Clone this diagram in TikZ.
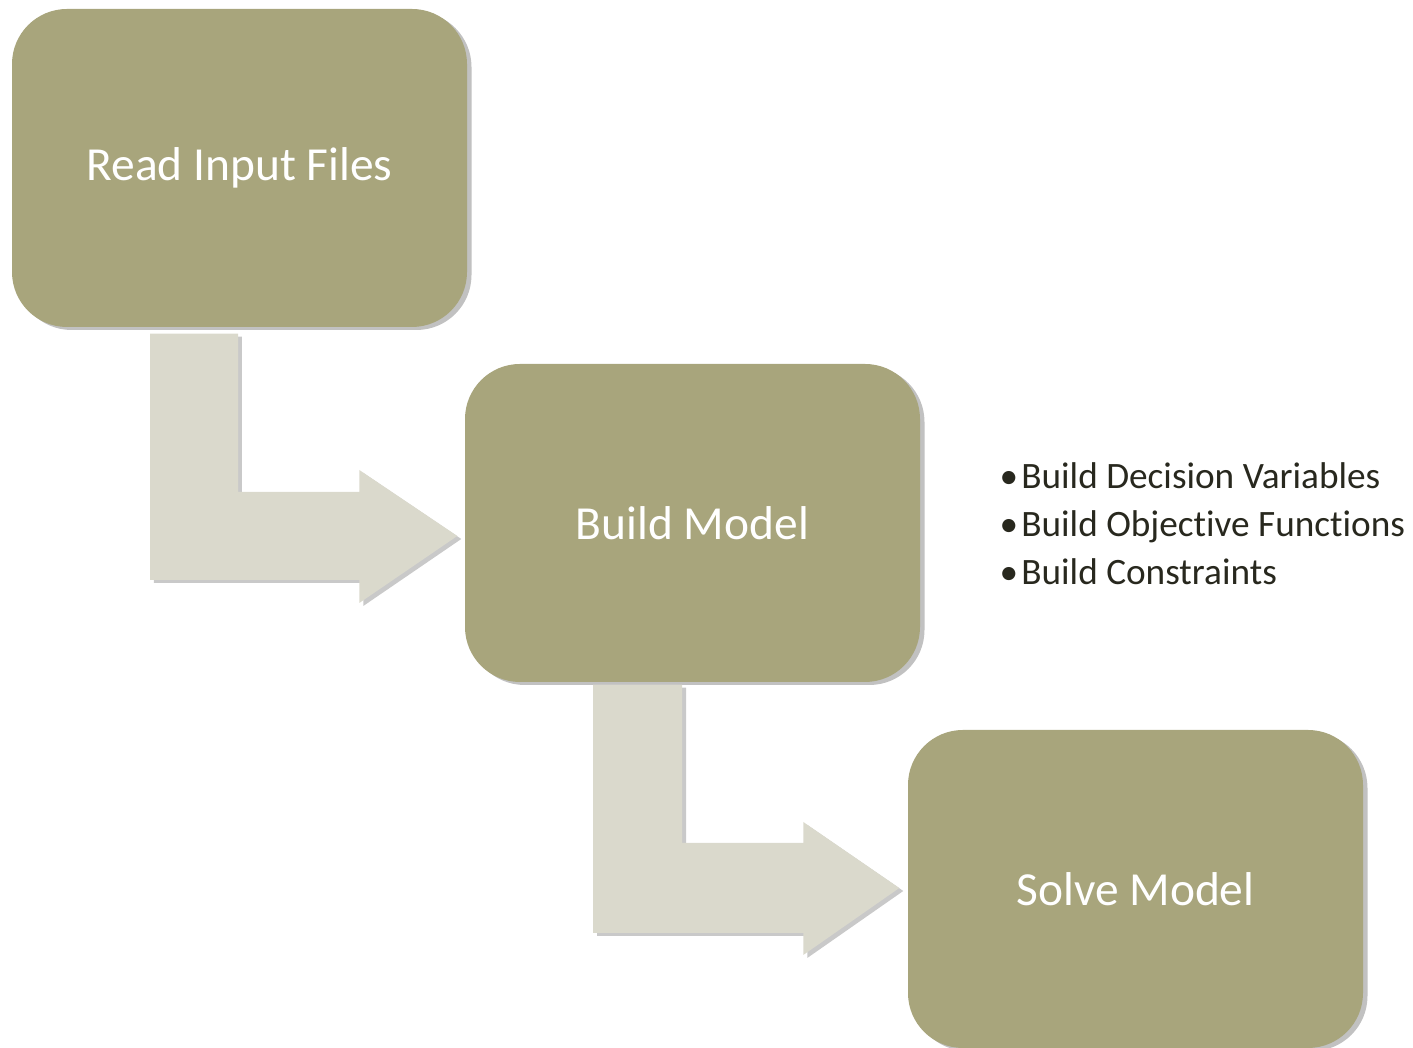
\documentclass[tikz,border=0pt]{standalone}
\usepackage{fontspec}
\setmainfont{Carlito}[Ligatures=NoCommon]
\usepackage{xcolor}
\usetikzlibrary{shadows, calc}

\definecolor{boxolive}{HTML}{A8A57C}
\definecolor{arrowgray}{HTML}{DAD9CC}
\definecolor{listtext}{HTML}{28281E}

\begin{document}
\begin{tikzpicture}[
    stage/.style={fill=boxolive, rounded corners=0.55cm, minimum width=4.55cm, minimum height=3.18cm,
        inner sep=0pt, text=white, font=\fontsize{13.5}{16}\selectfont,
        drop shadow={shadow xshift=0.045cm, shadow yshift=-0.03cm, opacity=0.35, fill=black!70}},
    bentarrow/.style={fill=arrowgray,
        drop shadow={shadow xshift=0.04cm, shadow yshift=-0.03cm, opacity=0.3, fill=black!70}}
]
    \useasboundingbox (0,0) rectangle (14.13,10.48);

    \node[stage] (read) at (2.395,8.80) {Read Input Files};
    \node[stage] (build) at (6.925,5.25) {Build Model};
    \node[stage] (solve) at (11.355,1.59) {Solve Model};

    % bent arrows: start of the vertical bar, then the tip
    \coordinate (a1s) at ($(read.south)+(-0.895,-0.06)$);
    \coordinate (a1t) at ($(build.west)+(-0.07,-0.13)$);
    \fill[bentarrow] (a1s) -- ++(0.88,0) |- ($(a1t)+(-0.98,0.44)$) -- ++(0,0.22)
        -- (a1t) -- ++(-0.98,-0.67) -- ++(0,0.23) -| (a1s) -- cycle;

    \coordinate (a2s) at ($(build.south)+(-0.995,-0.02)$);
    \coordinate (a2t) at ($(solve.west)+(-0.08,0.01)$);
    \fill[bentarrow] (a2s) -- ++(0.89,0) |- ($(a2t)+(-0.96,0.45)$) -- ++(0,0.21)
        -- (a2t) -- ++(-0.96,-0.67) -- ++(0,0.22) -| (a2s) -- cycle;

    \node[anchor=west, align=left, text=listtext, inner sep=0pt,
        font=\fontsize{10.6}{13.7}\selectfont] (steps) at (9.99,5.245) {%
        •\kern0.9pt Build Decision Variables\\
        •\kern0.9pt Build Objective Functions\\
        •\kern0.9pt Build Constraints};
\end{tikzpicture}
\end{document}
